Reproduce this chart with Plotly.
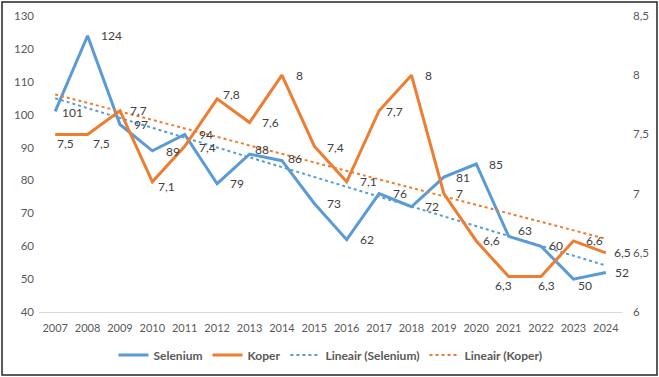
import numpy as np
import plotly.graph_objects as go

years = [str(y) for y in range(2007, 2025)]
selenium = [101, 124, 97, 89, 94, 79, 88, 86, 73, 62, 76, 72, 81, 85, 63, 60, 50, 52]
koper = [7.5, 7.5, 7.7, 7.1, 7.4, 7.8, 7.6, 8, 7.4, 7.1, 7.7, 8, 7, 6.6, 6.3, 6.3, 6.6, 6.5]

sel_labels = [str(v) for v in selenium]
kop_labels = [f"{v:g}".replace(".", ",") for v in koper]

# label offsets in pixels (dx to left edge, dy downward) - style only
sel_off = [(5, 1), (11, 0), (12, 0), (12, 1), (12, 0), (11, 0), (3, -5), (4, -2), (11, 0),
           (11, 0), (12, 0), (12, 0), (10, 0), (11, 0), (7, -6), (6, -1), (3, 6), (7, 0)]
kop_off = [(0, 9), (3, 9), (8, 0), (4, 5), (12, 1), (4, -4), (10, 0), (12, 0), (11, 1),
           (11, 0), (5, 1), (12, 0), (10, 0), (5, 0), (-16, 9), (-5, 9), (11, 0), (6, 0)]

BLUE = "#5B9BD5"
ORANGE = "#ED7D31"
FONT = "Lato"

x = np.arange(1, len(years) + 1)
sel_fit = np.polyval(np.polyfit(x, selenium, 1), x)
kop_fit = np.polyval(np.polyfit(x, koper, 1), x)

fig = go.Figure()
fig.add_trace(go.Scatter(x=years, y=sel_fit, name="Lineair (Selenium)", mode="lines",
                         line=dict(color=BLUE, width=2, dash="dot"), legendrank=3))
fig.add_trace(go.Scatter(x=years, y=kop_fit, name="Lineair (Koper)", mode="lines", yaxis="y2",
                         line=dict(color=ORANGE, width=2, dash="dot"), legendrank=4))
fig.add_trace(go.Scatter(x=years, y=selenium, name="Selenium", mode="lines",
                         line=dict(color=BLUE, width=3), legendrank=1))
fig.add_trace(go.Scatter(x=years, y=koper, name="Koper", mode="lines", yaxis="y2",
                         line=dict(color=ORANGE, width=3), legendrank=2))

annots = []
for i, (v, t, (dx, dy)) in enumerate(zip(selenium, sel_labels, sel_off)):
    annots.append(dict(x=i, y=v, xref="x", yref="y", text=t, showarrow=False,
                       xanchor="left", yanchor="middle", xshift=dx, yshift=-dy,
                       font=dict(color="#404040", size=12, family=FONT)))
for i, (v, t, (dx, dy)) in enumerate(zip(koper, kop_labels, kop_off)):
    annots.append(dict(x=i, y=v, xref="x", yref="y2", text=t, showarrow=False,
                       xanchor="left", yanchor="middle", xshift=dx, yshift=-dy,
                       font=dict(color="#404040", size=12, family=FONT)))

L, R, T, B = 39, 37, 16, 65
W, H = 659, 377
pw, ph = W - L - R, H - T - B

fig.update_layout(
    width=W, height=H,
    margin=dict(l=L, r=R, t=T, b=B, autoexpand=False),
    paper_bgcolor="white", plot_bgcolor="white",
    separators=", ",
    font=dict(family=FONT, color="#595959", size=12),
    showlegend=True,
    legend=dict(orientation="h", x=0.5, xanchor="center", y=(0 - 43) / ph, yanchor="middle",
                font=dict(size=12, color="#595959", weight="bold"), traceorder="normal"),
    xaxis=dict(type="category", range=[-0.5, 17.5], showgrid=False, showline=True,
               linecolor="#D9D9D9", linewidth=1, ticks="", ticklabelstandoff=6,
               tickfont=dict(size=11)),
    yaxis=dict(range=[40, 130], dtick=10, showgrid=False, zeroline=False, showline=False,
               ticks="", ticklabelstandoff=4, tickfont=dict(size=11.5)),
    yaxis2=dict(range=[6, 8.5], dtick=0.5, overlaying="y", side="right", showgrid=False,
                zeroline=False, showline=False, ticks="", ticklabelstandoff=10,
                tickfont=dict(size=11.5)),
    annotations=annots,
    shapes=[dict(type="rect", xref="paper", yref="paper",
                 x0=(2 - L) / pw, x1=(657 - L) / pw,
                 y0=(H - B - 375) / ph, y1=(H - B - 2) / ph,
                 line=dict(color="#262626", width=1.5), layer="above")],
)

fig.write_html("out.html", config={"displayModeBar": False},
               post_script="document.body.style.margin='0';document.body.style.overflow='hidden';")
